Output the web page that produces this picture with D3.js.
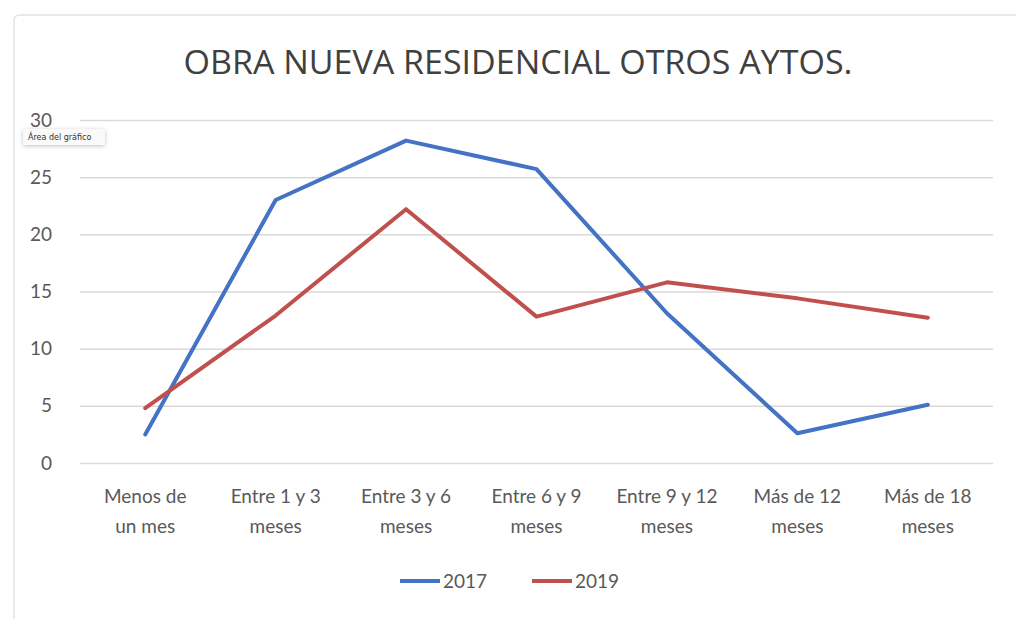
<!DOCTYPE html>
<html>
<head>
<meta charset="utf-8">
<script src="https://cdn.jsdelivr.net/npm/d3@7"></script>
<style>
  body { margin: 0; background: #fff; }
  svg { display: block; font-family: Lato, "Open Sans", sans-serif; }
</style>
</head>
<body>
<svg width="1016" height="619"></svg>
<script>
const categories = [
  ["Menos de", "un mes"],
  ["Entre 1 y 3", "meses"],
  ["Entre 3 y 6", "meses"],
  ["Entre 6 y 9", "meses"],
  ["Entre 9 y 12", "meses"],
  ["Más de 12", "meses"],
  ["Más de 18", "meses"]
];
const values2017 = [2.5, 23.0, 28.2, 25.7, 13.1, 2.6, 5.1];
const values2019 = [4.8, 12.9, 22.2, 12.8, 15.8, 14.4, 12.7];
const yTicks = [0, 5, 10, 15, 20, 25, 30];
const seriesNames = ["2017", "2019"];
const seriesColors = ["#4472c4", "#c0504d"];

const svg = d3.select("svg");
const margin = { top: 120, left: 80, bottom: 156, right: 23 };
const width = +svg.attr("width");
const height = +svg.attr("height");
const innerWidth = width - margin.left - margin.right;
const innerHeight = height - margin.top - margin.bottom;

// chart frame, only top and left edges are visible in the screenshot
svg.append("path")
  .attr("d", `M14,${height} V21 Q14,15 20,15 H${width}`)
  .attr("fill", "none")
  .attr("stroke", "#e4e4e4")
  .attr("stroke-width", 1.5);

svg.append("text")
  .attr("x", 518).attr("y", 74)
  .attr("text-anchor", "middle")
  .attr("font-family", "'Open Sans', sans-serif")
  .attr("font-size", 32)
  .attr("fill", "#404040")
  .attr("textLength", 669)
  .attr("lengthAdjust", "spacingAndGlyphs")
  .text("OBRA NUEVA RESIDENCIAL OTROS AYTOS.");

const series = seriesNames.map((name, i) => ({
  name,
  color: seriesColors[i],
  values: (i === 0 ? values2017 : values2019)
}));

const xScale = d3.scaleBand()
  .domain(categories.map((d, i) => i))
  .range([0, innerWidth]);

const yScale = d3.scaleLinear()
  .domain([0, 30])
  .range([innerHeight, 0]);

const g = svg.append("g")
  .attr("transform", `translate(${margin.left},${margin.top})`);

// gridlines
const yAxis = d3.axisLeft(yScale).tickValues(yTicks).tickSize(-innerWidth).tickPadding(28);
const yAxisGroup = g.append("g").attr("class", "y-axis").call(yAxis);
yAxisGroup.select(".domain").remove();
yAxisGroup.selectAll(".tick line").attr("stroke", "#d9d9d9").attr("stroke-width", 1.5);
yAxisGroup.selectAll(".tick text")
  .attr("font-size", 19)
  .attr("font-family", "Lato, sans-serif")
  .attr("fill", "#595959");

// x labels, two lines each
const xAxisGroup = g.append("g")
  .attr("class", "x-axis")
  .attr("transform", `translate(0,${innerHeight})`);
const labelGroups = xAxisGroup.selectAll("g")
  .data(categories)
  .enter()
  .append("g")
  .attr("transform", (d, i) => `translate(${xScale(i) + xScale.bandwidth() / 2},0)`);
labelGroups.selectAll("text")
  .data(d => d)
  .enter()
  .append("text")
  .attr("y", (t, j) => 40 + j * 30)
  .attr("text-anchor", "middle")
  .attr("font-size", 19)
  .attr("fill", "#595959")
  .text(t => t);

const line = d3.line()
  .x((d, i) => xScale(i) + xScale.bandwidth() / 2)
  .y(d => yScale(d));

g.selectAll(".series")
  .data(series)
  .enter()
  .append("path")
  .attr("class", "series")
  .attr("fill", "none")
  .attr("stroke", d => d.color)
  .attr("stroke-width", 4)
  .attr("stroke-linejoin", "round")
  .attr("stroke-linecap", "round")
  .attr("d", d => line(d.values));

// legend
const legend = svg.append("g").attr("transform", "translate(400,581)");
const legendItem = legend.selectAll("g")
  .data(series)
  .enter()
  .append("g")
  .attr("transform", (d, i) => `translate(${i * 132},0)`);
legendItem.append("line")
  .attr("x1", 0).attr("x2", 40)
  .attr("stroke", d => d.color)
  .attr("stroke-width", 4);
legendItem.append("text")
  .attr("x", 43).attr("y", 7)
  .attr("font-size", 19)
  .attr("fill", "#595959")
  .text(d => d.name);

// excel tooltip left in the screenshot
const defs = svg.append("defs");
defs.append("filter").attr("id", "shadow")
  .attr("x", "-20%").attr("y", "-50%").attr("width", "140%").attr("height", "200%")
  .append("feDropShadow")
  .attr("dx", 0).attr("dy", 1).attr("stdDeviation", 2)
  .attr("flood-color", "#000").attr("flood-opacity", 0.25);
const tip = svg.append("g").attr("transform", "translate(23,129)");
tip.append("rect")
  .attr("width", 82).attr("height", 16).attr("rx", 3)
  .attr("fill", "#fafafa").attr("filter", "url(#shadow)");
tip.append("text")
  .attr("x", 5).attr("y", 11)
  .attr("font-size", 8)
  .attr("font-family", "'DejaVu Sans', sans-serif")
  .attr("fill", "#333")
  .text("Área del gráfico");
</script>
</body>
</html>
